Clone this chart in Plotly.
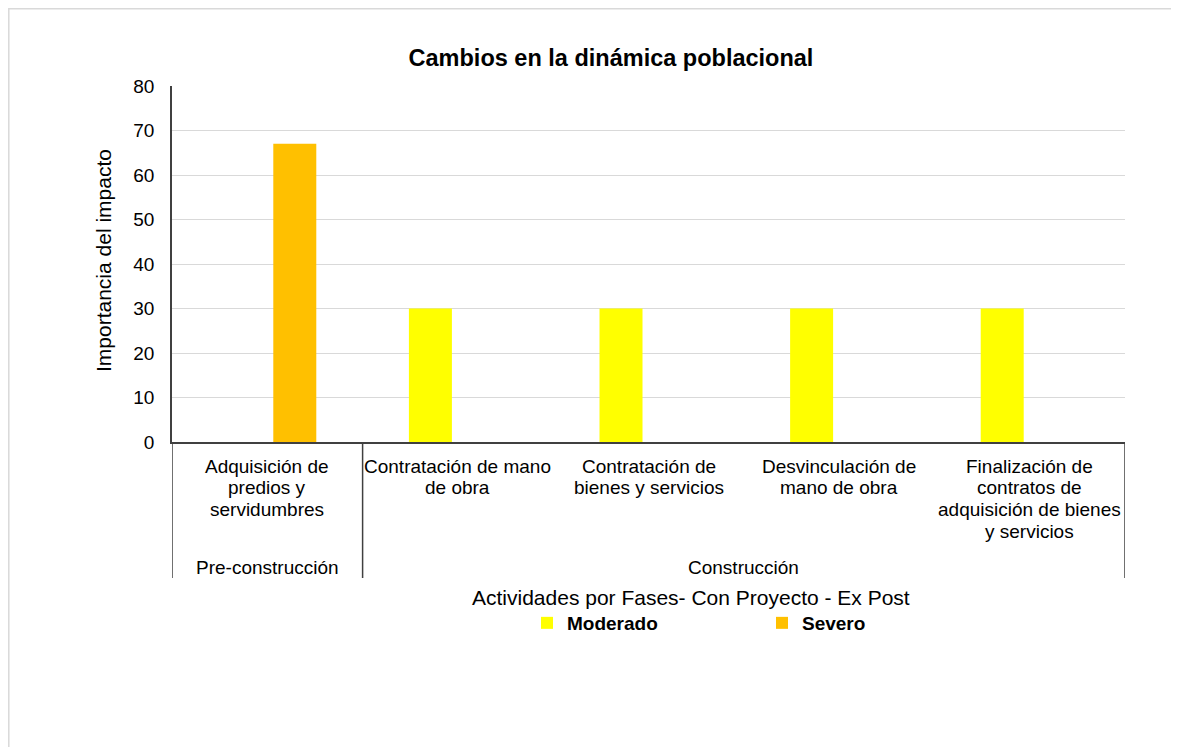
import plotly.graph_objects as go

# ---- data ----
activities = [
    "Adquisición de predios y servidumbres",
    "Contratación de mano de obra",
    "Contratación de bienes y servicios",
    "Desvinculación de mano de obra",
    "Finalización de contratos de adquisición de bienes y servicios",
]
activity_lines = [
    ["Adquisición de", "predios y", "servidumbres"],
    ["Contratación de mano", "de obra"],
    ["Contratación de", "bienes y servicios"],
    ["Desvinculación de", "mano de obra"],
    ["Finalización de", "contratos de", "adquisición de bienes", "y servicios"],
]
phases = ["Pre-construcción", "Construcción"]
phase_of_activity = ["Pre-construcción", "Construcción", "Construcción", "Construcción", "Construcción"]
moderado = [None, 30, 30, 30, 30]
severo = [67, None, None, None, None]
y_ticks = [0, 10, 20, 30, 40, 50, 60, 70, 80]

FONT = "Liberation Sans, Arial, sans-serif"
W, H = 1179, 747
OFF = 8  # page offset of the figure (browser body margin)
# plot area in page pixels (reference)
PX0, PX1, PY0, PY1 = 172, 1125, 86, 442
L, T = PX0 - OFF, PY0 - OFF
R, B = W - (PX1 - OFF), H - (PY1 - OFF)
PW, PH = PX1 - PX0, PY1 - PY0


def px_to_paper_y(py):
    return (PY1 - py) / PH


def px_to_paper_x(px):
    return (px - PX0) / PW


fig = go.Figure()
fig.add_trace(go.Bar(name="Moderado", x=activities, y=moderado, marker=dict(color="#FFFF00", line=dict(width=0))))
fig.add_trace(go.Bar(name="Severo", x=activities, y=severo, marker=dict(color="#FFC000", line=dict(width=0))))

annotations = []
# activity labels, one annotation per line
line0, lstep = 466, 21.7
for i, lines in enumerate(activity_lines):
    for j, t in enumerate(lines):
        annotations.append(dict(
            x=i, xref="x", y=0, yref="paper", yanchor="middle", xanchor="center",
            yshift=-(line0 + j * lstep - PY1), text=t, showarrow=False,
            font=dict(family=FONT, size=19, color="#000000")))

# phase labels
for ph in phases:
    idx = [i for i, p in enumerate(phase_of_activity) if p == ph]
    cx = sum(idx) / len(idx)
    annotations.append(dict(
        x=cx, xref="x", y=0, yref="paper", yanchor="middle", xanchor="center",
        yshift=-(567 - PY1), text=ph, showarrow=False,
        font=dict(family=FONT, size=19, color="#000000")))

# axis titles
annotations.append(dict(
    x=px_to_paper_x(691), xref="paper", y=px_to_paper_y(597), yref="paper",
    xanchor="center", yanchor="middle", showarrow=False,
    text="Actividades por Fases- Con Proyecto - Ex Post",
    font=dict(family=FONT, size=21, color="#000000")))
annotations.append(dict(
    x=px_to_paper_x(103), xref="paper", y=px_to_paper_y(261), yref="paper",
    xanchor="center", yanchor="middle", showarrow=False, textangle=-90,
    text="Importancia del impacto",
    font=dict(family=FONT, size=21, color="#000000")))

shapes = []
# outer chart border (partly cropped)
shapes.append(dict(type="rect", xref="paper", yref="paper",
                   x0=px_to_paper_x(OFF + 0.8), x1=px_to_paper_x(1400),
                   y0=px_to_paper_y(1000), y1=px_to_paper_y(OFF + 0.8),
                   line=dict(color="#d9d9d9", width=1.5), fillcolor="rgba(0,0,0,0)", layer="below"))
# category separators (multi-level axis)
bounds = [-0.5]
for k in range(1, len(phase_of_activity)):
    if phase_of_activity[k] != phase_of_activity[k - 1]:
        bounds.append(k - 0.5)
bounds.append(len(activities) - 0.5)
for bx in bounds:
    shapes.append(dict(type="line", xref="x", yref="paper", x0=bx, x1=bx,
                       y0=0, y1=px_to_paper_y(578),
                       line=dict(color="#404040", width=1.5)))

fig.update_layout(
    width=W, height=H,
    margin=dict(l=L, r=R, t=T, b=B),
    paper_bgcolor="white", plot_bgcolor="white",
    barmode="group", bargap=0.423, bargroupgap=0.218,
    title=dict(text="<b>Cambios en la dinámica poblacional</b>",
               x=(611 - OFF) / W, xanchor="center", y=1 - (58 - OFF) / H, yanchor="middle",
               font=dict(family=FONT, size=23.5, color="#000000")),
    xaxis=dict(type="category", showticklabels=False, showgrid=False,
               showline=True, linecolor="#404040", linewidth=1.5,
               range=[-0.5, len(activities) - 0.5], ticks=""),
    yaxis=dict(range=[0, 80], tickvals=y_ticks, showgrid=True, gridcolor="#d9d9d9",
               gridwidth=1.3, showline=True, linecolor="#404040", linewidth=1.5,
               ticks="", ticklabelstandoff=12, zeroline=False,
               tickfont=dict(family=FONT, size=19, color="#000000")),
    legend=dict(orientation="h", x=px_to_paper_x(527), xanchor="left",
                y=px_to_paper_y(623), yanchor="middle",
                entrywidth=190, entrywidthmode="pixels",
                font=dict(family=FONT, size=19, color="#000000", weight="bold"),
                bgcolor="rgba(0,0,0,0)"),
    annotations=annotations,
    shapes=shapes,
)

fig.write_html("out.html")
